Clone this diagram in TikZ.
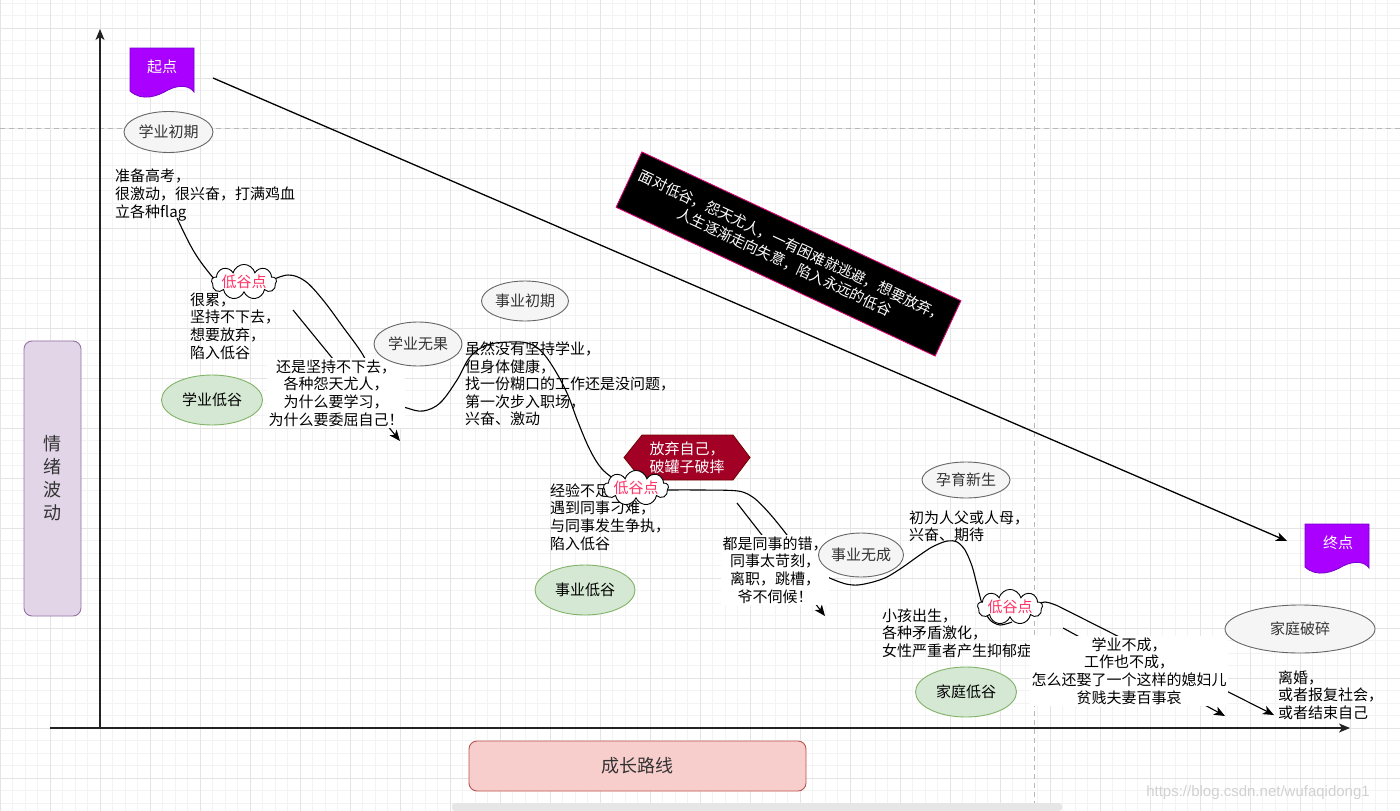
\documentclass[tikz,border=0pt]{standalone}
\usepackage{fontspec}
\setmainfont{Noto Sans CJK SC}
\newfontfamily\wmfont{Liberation Sans}
\usetikzlibrary{shapes.geometric,shapes.symbols,arrows.meta}
\definecolor{minorg}{HTML}{F3F3F3}
\definecolor{majorg}{HTML}{E4E4E4}
\definecolor{dashg}{HTML}{B8B8B8}
\definecolor{ellgrey}{HTML}{666666}
\definecolor{ellfill}{HTML}{F5F5F5}
\definecolor{txtgrey}{HTML}{333333}
\definecolor{greendraw}{HTML}{82B366}
\definecolor{greenfill}{HTML}{D5E8D4}
\definecolor{purpdraw}{HTML}{9673A6}
\definecolor{purpfill}{HTML}{E1D5E7}
\definecolor{reddraw}{HTML}{B85450}
\definecolor{redfill}{HTML}{F8CECC}
\definecolor{hexfill}{HTML}{A20025}
\definecolor{hexdraw}{HTML}{6F0000}
\definecolor{docfill}{HTML}{AA00FF}
\definecolor{docdraw}{HTML}{7700CC}
\definecolor{valleyred}{HTML}{FF3366}
\definecolor{boxborder}{HTML}{D80073}
\definecolor{axisc}{HTML}{222222}
\definecolor{scrollc}{HTML}{E6E6E6}
\begin{document}
\begin{tikzpicture}[x=1pt,y=-1pt,
  every node/.style={font=\fontsize{15}{17.6}\selectfont},
  minorgrid/.style={draw=minorg, line width=0.8pt},
  majorgrid/.style={draw=majorg, line width=0.9pt},
  dashline/.style={draw=dashg, line width=0.9pt, dash pattern=on 5pt off 4pt},
  txt/.style={inner sep=0pt, align=left, anchor=west},
  lbl/.style={fill=white, inner sep=1.5pt, align=center},
  greyell/.style={ellipse, draw=ellgrey, fill=ellfill, text=txtgrey, line width=0.9pt, inner sep=0pt},
  greenell/.style={ellipse, draw=greendraw, fill=greenfill, text=black, line width=0.9pt, inner sep=0pt},
  valley/.style={cloud, cloud puffs=9, cloud ignores aspect, draw=black, fill=white, text=valleyred, line width=0.9pt, inner sep=0pt},
  curveline/.style={line width=1.1pt, draw=black},
  arr/.style={line width=1.1pt, draw=black, -{Stealth[length=11pt,width=9pt,inset=3pt]}},
  axisline/.style={line width=1.6pt, draw=axisc, -{Stealth[length=11pt,width=9pt,inset=3pt]}},
  docbox/.style={fill=docfill, draw=docdraw, line width=0.8pt},
  whitetxt/.style={text=white, inner sep=0pt, align=center},
]
\useasboundingbox (0,0) rectangle (1400,811);
\fill[white] (0,0) rectangle (1400,811);
% grid
\foreach \i in {0,...,112} {\draw[minorgrid] ({\i*12.5},0) -- ({\i*12.5},811);}
\foreach \j in {0,...,65} {\draw[minorgrid] (0,{3+\j*12.5}) -- (1400,{3+\j*12.5});}
\foreach \i in {0,...,28} {\draw[majorgrid] ({\i*50},0) -- ({\i*50},811);}
\foreach \j in {0,...,15} {\draw[majorgrid] (0,{28+\j*50}) -- (1400,{28+\j*50});}
\draw[dashline] (0,128) -- (1400,128);
\draw[dashline] (1034,0) -- (1034,811);
% scrollbar
\fill[fill=scrollc, rounded corners=3pt] (452,803) rectangle (1062,811);
% watermark
\node[font=\wmfont\fontsize{15}{17}\selectfont, text=black!18, inner sep=0pt] (wm) at (1258,793) {https://blog.csdn.net/wufaqidong1};

% axes
\coordinate (yb) at (100,728);
\coordinate (yt) at (100,29);
\coordinate (xl) at (50,728);
\coordinate (xr) at (1350,728);
\draw[axisline] (yb) -- (yt);
\draw[axisline] (xl) -- (xr);

% start / end document shapes
\filldraw[docbox] (130,48) -- (194,48) -- (194,92) .. controls (190,86) and (180,84) .. (168,90) .. controls (158,96) and (142,102) .. (130,91) -- cycle;
\node[whitetxt] (start) at (162,67) {起点};
\filldraw[docbox] (1305,524) -- (1369,524) -- (1369,568) .. controls (1365,562) and (1355,560) .. (1343,566) .. controls (1333,572) and (1317,578) .. (1305,567) -- cycle;
\node[whitetxt] (end) at (1338,543) {终点};

% diagonal arrow
\coordinate (dstart) at (213,78);
\coordinate (dend) at (1287,541);
\draw[arr, line width=1.3pt] (dstart) -- (dend);

% emotional curve
\draw[curveline] plot[smooth, tension=0.6] coordinates {(177,218) (193,250) (210,274) (230,296)};
\draw[curveline] plot[smooth, tension=0.6] coordinates {(270,281) (288,275) (305,281) (323,300) (343,327) (363,355) (378,385) (392,402) (407,408) (423,411) (440,403) (457,380) (470,357) (487,345) (510,342) (527,343) (540,350) (553,367) (567,393) (578,422) (590,450) (602,469) (617,481)};
\draw[curveline] plot[smooth, tension=0.5] coordinates {(660,490) (700,490) (738,491) (754,498) (770,514) (787,535) (805,560) (818,572) (832,579) (846,584) (858,585) (873,582) (887,577) (903,567) (917,557) (932,547) (947,541) (957,542) (965,550) (972,566) (977,585) (983,607) (990,620) (1000,625) (1012,622)};
\draw[arr] plot[smooth, tension=0.6] coordinates {(1035,606) (1045,602) (1058,606)} -- (1274,715);

% straight arrows behind labels
\coordinate (a1s) at (293,310);
\coordinate (a1e) at (400,441);
\coordinate (a2s) at (737,503);
\coordinate (a2e) at (825,616);
\coordinate (a3s) at (1063,628);
\coordinate (a3e) at (1225,716);
\draw[arr] (a1s) -- (a1e);
\draw[arr] (a2s) -- (a2e);
\draw[arr] (a3s) -- (a3e);

% rotated black box
\node[rotate=-25, fill=black, draw=boxborder, line width=0.9pt, text=white, align=center, minimum width=352, minimum height=61, inner sep=0pt, font=\fontsize{14.6}{18}\selectfont] (face) at (788.5,254) {面对低谷，怨天尤人，一有困难就逃避，想要放弃，\\人生逐渐走向失意，陷入永远的低谷};

% phase 1: study
\node[greyell, minimum width=89, minimum height=41] (xyqq) at (168.5,132) {学业初期};
\node[txt] (t1) at (115,195) {准备高考，\\很激动，很兴奋，打满鸡血\\立各种flag};
\node[txt] (t2) at (190,326) {很累，\\坚持不下去，\\想要放弃，\\陷入低谷};
\node[valley, minimum width=58, minimum height=30] (c1) at (244,282) {低谷点};
\node[greenell, minimum width=101, minimum height=50] (xydg) at (212,400) {学业低谷};
\node[lbl] (t3) at (336,393) {还是坚持不下去，\\各种怨天尤人，\\为什么要学习，\\为什么要委屈自己！};
\node[greyell, minimum width=88, minimum height=44] (xywg) at (418,344) {学业无果};

% phase 2: career
\node[greyell, minimum width=87, minimum height=40] (syqq) at (525,301) {事业初期};
\node[txt] (t4) at (465,384) {虽然没有坚持学业，\\但身体健康，\\找一份糊口的工作还是没问题，\\第一次步入职场，\\兴奋、激动};
\filldraw[fill=hexfill, draw=hexdraw, line width=0.8pt] (624,457.5) -- (642,435) -- (733,435) -- (750,457.5) -- (733,480) -- (642,480) -- cycle;
\node[whitetxt] (hex) at (687,457.5) {放弃自己，\\破罐子破摔};
\node[txt] (t5) at (550,517) {经验不足，\\遇到同事刁难，\\与同事发生争执，\\陷入低谷};
\node[valley, minimum width=56, minimum height=23] (c2) at (636,488) {低谷点};
\node[greenell, minimum width=100, minimum height=50] (sydg) at (585,590) {事业低谷};
\node[lbl] (t6) at (775,570) {都是同事的错，\\同事太苛刻，\\离职，跳槽，\\爷不伺候！};
\node[greyell, minimum width=85, minimum height=44] (sywc) at (861,555) {事业无成};

% phase 3: family
\node[greyell, minimum width=88, minimum height=36] (yyxs) at (966,480) {孕育新生};
\node[txt] (t7) at (909,526.5) {初为人父或人母，\\兴奋、期待};
\node[txt] (t8) at (882,633) {小孩出生，\\各种矛盾激化，\\女性严重者产生抑郁症};
\node[valley, minimum width=54, minimum height=28] (c3) at (1010,607) {低谷点};
\node[greenell, minimum width=101, minimum height=50] (jtdg) at (966,692) {家庭低谷};
\node[lbl] (t9) at (1129,671) {学业不成，\\工作也不成，\\怎么还娶了一个这样的媳妇儿\\贫贱夫妻百事哀};
\node[greyell, minimum width=150, minimum height=48] (jtps) at (1300,629) {家庭破碎};
\node[txt] (t10) at (1278,695) {离婚，\\或者报复社会，\\或者结束自己};

% axis titles
\node[rounded corners=8pt, fill=purpfill, draw=purpdraw, line width=0.9pt, minimum width=57, minimum height=275, text=txtgrey, align=center, inner sep=0pt, font=\fontsize{18}{23}\selectfont] (emo) at (52.5,478.5) {情\\绪\\波\\动};
\node[rounded corners=8pt, fill=redfill, draw=reddraw, line width=0.9pt, minimum width=337, minimum height=50, text=txtgrey, inner sep=0pt, font=\fontsize{18}{22}\selectfont] (grow) at (637.5,766) {成长路线};
\end{tikzpicture}
\end{document}
